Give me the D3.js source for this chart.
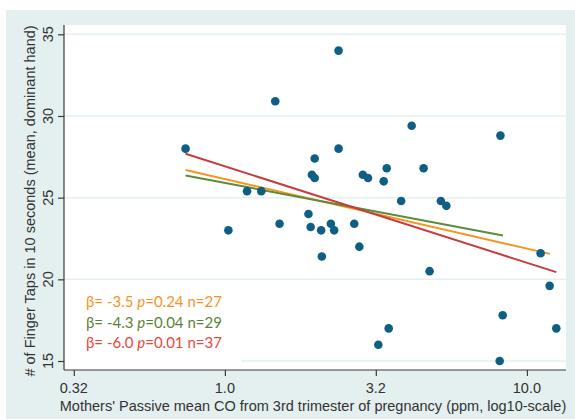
<!doctype html>
<html lang="en">
  <head>
    <meta charset="utf-8" />
    <title>Finger taps vs CO</title>
    <script src="https://cdn.jsdelivr.net/npm/d3@7"></script>
    <style>
      body { margin: 0; background: #fff; }
      svg { display: block; }
    </style>
  </head>
  <body>
    <svg id="chart" width="575" height="420"></svg>
    <script>
      // Mothers' passive mean CO (ppm) vs finger taps, one point per child
      const coPpm = [0.741, 1.468, 2.379, 1.027, 1.184, 1.320, 1.517, 1.891, 1.923, 2.083,
        2.094, 2.243, 2.300, 1.983, 1.941, 1.983, 2.379, 2.681, 2.787, 2.862,
        2.978, 3.356, 3.434, 3.833, 4.153, 4.549, 4.762, 5.188, 5.410, 8.171,
        11.10, 11.89, 8.314, 3.486, 3.221, 12.51, 8.125];
      const taps = [28.0, 30.9, 34.0, 23.0, 25.4, 25.4, 23.4, 24.0, 23.2, 23.0,
        21.4, 23.4, 23.0, 27.4, 26.4, 26.2, 28.0, 23.4, 22.0, 26.4,
        26.2, 26.0, 26.8, 24.8, 29.4, 26.8, 20.5, 24.8, 24.5, 28.8,
        21.6, 19.6, 17.8, 17.0, 16.0, 17.0, 15.0];

      // fitted lines: [x start, x end], [y start, y end]
      const fits = [
        { name: 'n27', color: '#f7941d', x: [0.741, 11.91], y: [26.69, 21.56] },
        { name: 'n29', color: '#5b8c38', x: [0.741, 8.33], y: [26.36, 22.68] },
        { name: 'n37', color: '#c43d40', x: [0.741, 12.51], y: [27.69, 20.44] }
      ];

      const legendRows = [
        { beta: '-3.5', p: '0.24', n: '27', color: '#f7941d' },
        { beta: '-4.3', p: '0.04', n: '29', color: '#5e7f3c' },
        { beta: '-6.0', p: '0.01', n: '37', color: '#ee4537' }
      ];

      const xTicks = [0.316, 1.0, 3.16, 10.0];
      const xTickLabels = ['0.32', '1.0', '3.2', '10.0'];
      const yTicks = [15, 20, 25, 30, 35];

      const svg = d3.select('#chart');
      const plot = { left: 64, right: 566, top: 25, bottom: 370 };
      const bg = '#e3f0ef';

      svg.append('rect').attr('x', 6).attr('y', 10).attr('width', 569).attr('height', 409).attr('fill', bg);
      svg.append('rect').attr('x', plot.left).attr('y', plot.top)
        .attr('width', plot.right - plot.left).attr('height', plot.bottom - plot.top).attr('fill', '#fff');

      const x = d3.scaleLog().domain([0.2933, 13.47]).range([plot.left, plot.right]);
      const y = d3.scaleLinear().domain([14.45, 35.57]).range([plot.bottom, plot.top]);

      // gridlines
      svg.append('g').selectAll('line').data(yTicks).join('line')
        .attr('x1', plot.left).attr('x2', plot.right)
        .attr('y1', d => y(d)).attr('y2', d => y(d))
        .attr('stroke', bg).attr('stroke-width', 1.5);

      // legend background hides part of the lowest gridline
      svg.append('rect').attr('x', plot.left + 1).attr('y', 288).attr('width', 176).attr('height', 80).attr('fill', '#fff');

      // fit lines
      const line = d3.line().x(d => x(d[0])).y(d => y(d[1]));
      svg.append('g').selectAll('path').data(fits).join('path')
        .attr('d', d => line([[d.x[0], d.y[0]], [d.x[1], d.y[1]]]))
        .attr('stroke', d => d.color).attr('stroke-width', 2).attr('fill', 'none');

      // points
      svg.append('g').selectAll('circle').data(coPpm).join('circle')
        .attr('cx', d => x(d)).attr('cy', (d, i) => y(taps[i]))
        .attr('r', 4.3).attr('fill', '#0f5f84');

      // axes
      const axisColor = '#3a3a3a';
      const yAxis = svg.append('g').attr('transform', `translate(${plot.left},0)`)
        .call(d3.axisLeft(y).tickValues(yTicks).tickSize(6).tickFormat(''));
      yAxis.select('.domain').attr('d', `M0,${plot.top}V${plot.bottom}`);
      yAxis.selectAll('path,line').attr('stroke', axisColor).attr('stroke-width', 1.2);

      const xAxis = svg.append('g').attr('transform', `translate(0,${plot.bottom})`)
        .call(d3.axisBottom(x).tickValues(xTicks).tickSize(6).tickFormat(''));
      xAxis.select('.domain').attr('d', `M${plot.left},0H${plot.right}`);
      xAxis.selectAll('path,line').attr('stroke', axisColor).attr('stroke-width', 1.2);

      const font = "'Liberation Sans', Arial, sans-serif";

      svg.append('g').selectAll('text').data(yTicks).join('text')
        .attr('transform', d => `translate(53,${y(d)}) rotate(-90)`)
        .attr('text-anchor', 'middle')
        .attr('font-family', font).attr('font-size', 14.5).attr('fill', '#333')
        .text(d => d);

      svg.append('g').selectAll('text').data(xTicks).join('text')
        .attr('x', d => x(d)).attr('y', 393)
        .attr('text-anchor', 'middle')
        .attr('font-family', font).attr('font-size', 14.5).attr('fill', '#333')
        .text((d, i) => xTickLabels[i]);

      svg.append('text')
        .attr('transform', `translate(35,201) rotate(-90)`)
        .attr('text-anchor', 'middle')
        .attr('font-family', font).attr('font-size', 14.5).attr('fill', '#333')
        .text('# of Finger Taps in 10 seconds (mean, dominant hand)');

      svg.append('text')
        .attr('x', 313).attr('y', 410.5)
        .attr('text-anchor', 'middle')
        .attr('font-family', font).attr('font-size', 14.5).attr('fill', '#333')
        .text("Mothers' Passive mean CO from 3rd trimester of pregnancy (ppm, log10-scale)");

      // legend
      const leg = svg.append('g').selectAll('text').data(legendRows).join('text')
        .attr('x', 86).attr('y', (d, i) => 307 + i * 20.5)
        .attr('font-family', 'Lato, sans-serif').attr('font-size', 15)
        .attr('fill', d => d.color);
      leg.append('tspan').text(d => `\u03b2= ${d.beta} `);
      leg.append('tspan').attr('font-style', 'italic').text('p');
      leg.append('tspan').text(d => `=${d.p} n=${d.n}`);
    </script>
  </body>
</html>
